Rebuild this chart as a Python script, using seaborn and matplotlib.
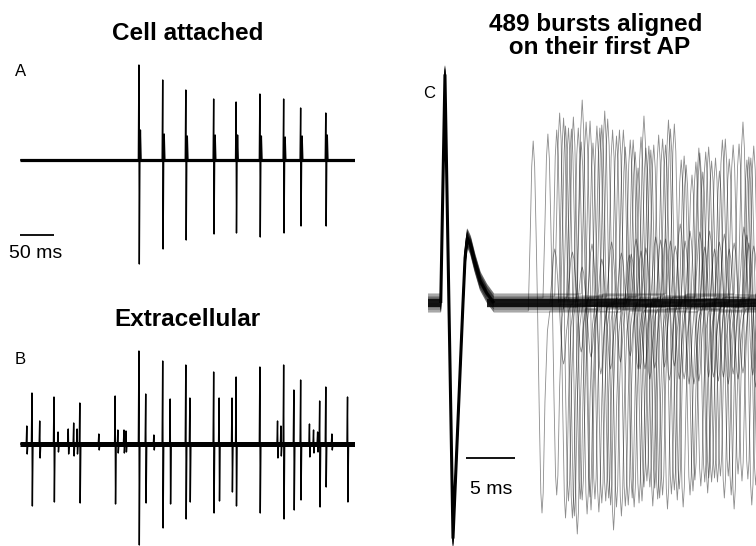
import numpy as np
import pandas as pd
import matplotlib
matplotlib.use("Agg")
import matplotlib.pyplot as plt
import seaborn as sns

# ---------------- data (time in ms, amplitude in arbitrary units) ----------------
# Panel A : cell attached
a_span = [0, 493]
a_spike_t = [175, 210, 244, 285, 318, 353, 388, 413, 450]
a_spike_top = [95, 80, 70, 61, 58, 66, 61, 52, 47]
a_spike_bottom = [-104, -89, -80, -74, -73, -77, -73, -66, -66]
a_spike_bump = [30, 26, 24, 25, 25, 24, 23, 24, 25]
a_scalebar = [0, 50]
a_scalebar_level = -75

# Panel B : extracellular
b_span = [0, 493]
b_big_t = [17.6, 50, 88, 140, 175, 185, 210, 221, 244, 250, 285, 293, 312, 318,
           353, 388, 403, 413, 441, 450, 482]
b_big_up = [51, 47, 41, 48, 93, 50, 83, 45, 79, 46, 72, 46, 46, 67, 77, 79, 54,
            64, 43, 57, 47]
b_big_down = [62, 58, 59, 60, 101, 59, 84, 60, 75, 58, 69, 57, 48, 62, 69, 75,
              66, 56, 63, 43, 58]
b_small_t = [10, 29, 56, 71, 79, 84, 116, 144, 153, 156, 197, 379, 384, 426, 432,
             438, 459]
b_small_up = [18, 23, 12, 15, 21, 15, 10, 14, 14, 13, 9, 23, 18, 20, 14, 12, 10]
b_small_down = [10, 14, 8, 10, 12, 10, 6, 9, 9, 8, 6, 14, 12, 13, 9, 8, 6]

# Panel C : bursts aligned on first AP
c_span = [-1.73, 32.5]
c_band_segments = [[-1.73, -0.43], [4.3, 32.5]]
c_ap_t = [-0.43, 0.0, 0.82, 1.84, 2.05, 2.28, 2.6, 3.06, 3.6, 4.26, 5.0]
c_ap_v = [0, 228, -235, 0, 45, 65, 58, 40, 22, 10, 0]
c_sp_t = [-0.5, -0.3, -0.15, 0.0, 0.15, 0.3, 0.45, 0.62, 0.78, 0.9, 1.02, 1.2, 1.45, 1.7]
c_sp_f = [0, 0.45, 0.85, 1.0, 0.85, 0.45, 0, -0.5, -0.9, -1.0, -0.9, -0.45, -0.1, 0]
c_burst_t = [
    [9.0, 17.1, 25.2], [10.5, 18.2, 26.6], [11.4, 19.2, 28.0], [11.7, 20.3, 29.4],
    [12.1, 18.9, 25.9], [12.6, 20.8, 28.6], [13.1, 21.3, 30.4], [13.6, 21.8, 31.5],
    [14.0, 22.8], [14.8, 23.4], [15.5, 19.7, 27.2], [16.3, 24.1],
    [16.6, 20.0, 26.9], [17.8, 24.6, 30.8], [12.9, 22.2, 29.0], [15.1, 21.0, 27.6],
    [13.9, 19.4, 25.6, 31.0], [14.4, 23.0, 30.0], [18.4, 26.3], [16.0, 22.5, 28.3],
    [12.3, 17.5, 24.4], [15.8, 20.5, 26.0, 31.2],
    [11.2, 15.0, 19.0, 23.5, 28.0], [13.0, 17.0, 21.5, 26.0, 30.5],
    [16.0, 20.0, 24.5, 29.0], [18.0, 22.5, 27.0, 31.5], [20.5, 25.0, 29.5],
    [14.0, 18.8, 23.0, 27.5, 31.0], [19.5, 24.0, 28.5], [22.0, 26.5, 30.8],
]
c_burst_peak = [
    [170, 181, 136], [164, 168, 146], [176, 166, 135], [183, 180, 151],
    [185, 163, 155], [181, 163, 170], [183, 155, 178], [176, 169, 158],
    [195, 175], [186, 183], [175, 133, 140], [199, 150],
    [178, 160, 150], [175, 140, 145], [170, 160, 140], [165, 158, 150],
    [160, 150, 140, 145], [172, 165, 150], [165, 140], [175, 155, 160],
    [180, 170, 150], [170, 150, 145, 140],
    [55, 60, 50, 58, 62], [45, 55, 60, 65, 70], [50, 58, 68, 60], [48, 62, 70, 55],
    [55, 72, 60], [40, 52, 66, 58, 64], [60, 75, 65], [65, 58, 70],
]
c_burst_trough = [
    [-202, -205, -175], [-197, -200, -180], [-212, -195, -170], [-205, -210, -185],
    [-215, -200, -190], [-225, -190, -200], [-200, -195, -205], [-210, -205, -190],
    [-215, -205], [-205, -200], [-200, -180, -175], [-220, -185],
    [-210, -190, -185], [-200, -175, -180], [-200, -195, -175], [-195, -190, -190],
    [-195, -185, -180, -175], [-205, -195, -185], [-195, -170], [-205, -190, -195],
    [-210, -200, -185], [-200, -190, -180, -175],
    [-60, -70, -65, -75, -80], [-55, -65, -70, -80, -78], [-60, -70, -75, -70],
    [-55, -65, -80, -75], [-65, -78, -70], [-50, -62, -72, -70, -76],
    [-70, -85, -75], [-75, -72, -82],
]
c_offsets = [-8, 5, -3, 7, 0, -6, 3, -1, 8, -4, 2, -7, 6, -2, 4, -5, 1, 9, -9, 3,
             -3, 5, -1, 6, -6, 2, 0, -4, 4, -2]
c_scalebar = [2.1, 7.1]
c_scalebar_level = -155

# ---------------- build traces ----------------
def a_trace():
    t, v = [a_span[0]], [0]
    for ts, top, bot, bump in zip(a_spike_t, a_spike_top, a_spike_bottom, a_spike_bump):
        t += [ts - 0.8, ts, ts + 0.6, ts + 1.4, ts + 2.2, ts + 3.2]
        v += [0, top, bot, 0, bump, 0]
    t.append(a_span[1]); v.append(0)
    return pd.DataFrame({"t": t, "v": v})


def b_trace():
    ev = sorted(list(zip(b_big_t, b_big_up, b_big_down)) +
                list(zip(b_small_t, b_small_up, b_small_down)))
    t, v = [b_span[0]], [0]
    for ts, up, dn in ev:
        t += [ts - 0.8, ts, ts + 0.6, ts + 1.5]
        v += [0, up, -dn, 0]
    t.append(b_span[1]); v.append(0)
    return pd.DataFrame({"t": t, "v": v})


def c_traces():
    rows = []
    for i, (times, peaks, troughs) in enumerate(zip(c_burst_t, c_burst_peak, c_burst_trough)):
        off = c_offsets[i]
        pts = [(c_span[0], 0)]
        pts += list(zip(c_ap_t, c_ap_v))
        for ts, pk, tr in zip(times, peaks, troughs):
            for dt, f in zip(c_sp_t, c_sp_f):
                pts.append((ts + dt, f * pk if f >= 0 else -f * tr))
        pts.append((c_span[1], 0))
        for tt, vv in pts:
            rows.append({"t": tt, "v": vv + off, "trace": i})
    return pd.DataFrame(rows)


def c_band():
    rows = []
    for i, seg in enumerate(c_band_segments):
        for tt in seg:
            rows.append({"t": tt, "v": 0, "seg": i})
    return pd.DataFrame(rows)


# ---------------- figure ----------------
sns.set_theme(style="white")
plt.rcParams["font.family"] = ["Liberation Sans", "DejaVu Sans"]
plt.rcParams["text.color"] = "black"
plt.rcParams["lines.solid_capstyle"] = "butt"

W, H = 756, 546
fig = plt.figure(figsize=(W / 100, H / 100), dpi=100)


def px_axes(left, top, right, bottom):
    ax = fig.add_axes([left / W, 1 - bottom / H, (right - left) / W, (bottom - top) / H])
    ax.set_axis_off()
    return ax


def ftext(x, y, s, **kw):
    fig.text(x / W, 1 - y / H, s, ha="center", va="center", color="black", **kw)


# Panel A
axA = px_axes(20, 55, 355, 275)
axA.set_xlim(a_span); axA.set_ylim(-115, 105)
sns.lineplot(x=a_span, y=[0, 0], ax=axA, color="black", lw=2.3, legend=False,
             solid_capstyle="butt")
sns.lineplot(data=a_trace(), x="t", y="v", ax=axA, color="black", lw=1.0,
             sort=False, estimator=None, legend=False)
sns.lineplot(x=a_scalebar, y=[a_scalebar_level] * 2, ax=axA, color="black", lw=1.3,
             legend=False, solid_capstyle="butt")

# Panel B
axB = px_axes(20, 335, 355, 546)
axB.set_xlim(b_span); axB.set_ylim(-102, 109)
sns.lineplot(x=b_span, y=[0, 0], ax=axB, color="black", lw=3.6, legend=False,
             solid_capstyle="butt")
sns.lineplot(data=b_trace(), x="t", y="v", ax=axB, color="black", lw=1.0,
             sort=False, estimator=None, legend=False)

# Panel C
axC = px_axes(428, 60, 756, 546)
axC.set_xlim(-1.73, 31.73); axC.set_ylim(-243, 243)
sns.lineplot(data=c_traces(), x="t", y="v", units="trace", estimator=None, sort=False,
             ax=axC, color="black", lw=0.6, alpha=0.45, legend=False)
sns.lineplot(data=c_band(), x="t", y="v", units="seg", estimator=None, sort=False,
             ax=axC, color="black", lw=6, alpha=0.85, legend=False,
             solid_capstyle="butt")
sns.lineplot(x=c_ap_t, y=c_ap_v, ax=axC, color="black", lw=2.2, sort=False,
             estimator=None, legend=False)
sns.lineplot(x=c_scalebar, y=[c_scalebar_level] * 2, ax=axC, color="black", lw=1.3,
             legend=False, solid_capstyle="butt")

# Texts
ftext(188, 34, "Cell attached", fontsize=17.5, fontweight="bold")
ftext(187, 320, "Extracellular", fontsize=17.5, fontweight="bold")
ftext(596, 36, "489 bursts aligned\n on their first AP", fontsize=17.5,
      fontweight="bold", linespacing=1.05, multialignment="center")
ftext(21, 72, "A", fontsize=12)
ftext(20, 359, "B", fontsize=12)
ftext(429, 93, "C", fontsize=12)
ftext(36, 253, "50 ms", fontsize=14)
ftext(491, 490, "5 ms", fontsize=14)

fig.savefig("out.png", dpi=100)
